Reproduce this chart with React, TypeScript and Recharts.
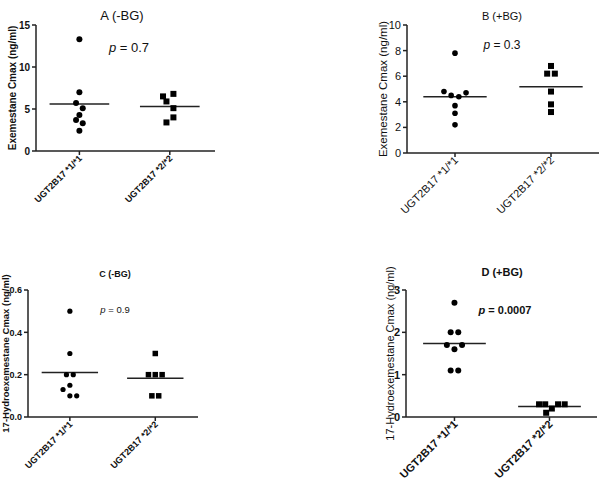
import React from "react";
import { ScatterChart, Scatter, XAxis, YAxis, ReferenceLine } from "recharts";

// genotype groups
const GROUPS = ["UGT2B17 *1/*1", "UGT2B17 *2/*2"];

// A: exemestane Cmax, no BG
const A_WT = [13.3, 7.0, 5.7, 5.1, 4.3, 3.7, 3.3, 2.4];
const A_WT_JIT = [0, 0, -0.037, 0.037, 0, -0.037, 0.037, 0];
const A_DEL = [6.5, 6.8, 5.9, 5.1, 4.0, 3.4];
const A_DEL_JIT = [-0.075, 0.04, -0.037, 0.04, 0.04, -0.037];
const A_TICKS = [0, 5, 10, 15];

// B: exemestane Cmax, +BG
const B_WT = [7.8, 4.8, 4.5, 4.4, 4.7, 3.7, 3.1, 2.2];
const B_WT_JIT = [0, -0.115, -0.04, 0.04, 0.115, 0, 0, 0];
const B_DEL = [6.8, 6.2, 6.2, 4.8, 3.8, 3.2];
const B_DEL_JIT = [0, -0.04, 0.04, 0, 0, 0];
const B_TICKS = [0, 2, 4, 6, 8, 10];

// C: 17-hydroexemestane Cmax, no BG
const C_WT = [0.5, 0.3, 0.2, 0.2, 0.15, 0.13, 0.1, 0.1];
const C_WT_JIT = [0, 0, -0.04, 0.04, 0, -0.08, 0, 0.08];
const C_DEL = [0.3, 0.2, 0.2, 0.2, 0.1, 0.1];
const C_DEL_JIT = [0, -0.08, 0, 0.08, -0.04, 0.04];
const C_TICKS = [0, 0.2, 0.4, 0.6];

// D: 17-hydroexemestane Cmax, +BG
const D_WT = [2.7, 2.0, 2.0, 1.7, 1.7, 1.6, 1.1, 1.1];
const D_WT_JIT = [0, -0.04, 0.04, -0.08, 0.08, 0, -0.04, 0.04];
const D_DEL = [0.3, 0.3, 0.3, 0.3, 0.1, 0.2];
const D_DEL_JIT = [-0.11, -0.045, 0.09, 0.16, -0.035, 0.025];
const D_TICKS = [0, 1, 2, 3];

const FONT = "'Liberation Sans', Arial, sans-serif";
const INK = "#222";
const HALF = 0.33;

const toPoints = (vals: number[], jit: number[], cat: number) =>
  vals.map((v, i) => ({ x: cat + jit[i], y: v }));
const mean = (vals: number[]) => vals.reduce((s, v) => s + v, 0) / vals.length;

const dot = (r: number) => (p: any) => <circle cx={p.cx} cy={p.cy} r={r} fill="#000" />;
const square = (s: number) => (p: any) => (
  <rect x={p.cx - s / 2} y={p.cy - s / 2} width={s} height={s} fill="#000" />
);

function CatTick({ x, y, payload, size, weight }: any) {
  const label = GROUPS[Math.round(payload.value) - 1];
  const tx = x + size * 0.35;
  const ty = y + 2;
  return (
    <text
      x={tx}
      y={ty}
      transform={`rotate(-45 ${tx} ${ty})`}
      textAnchor="end"
      fontSize={size}
      fontWeight={weight}
      fontFamily={FONT}
      fill="#111"
    >
      {label}
    </text>
  );
}

function YTitle({ viewBox, text, cx, size, weight }: any) {
  const cy = viewBox ? viewBox.y + viewBox.height / 2 : 100;
  return (
    <text
      x={cx}
      y={cy}
      transform={`rotate(-90 ${cx} ${cy})`}
      textAnchor="middle"
      dominantBaseline="central"
      fontSize={size}
      fontWeight={weight}
      fontFamily={FONT}
      fill="#111"
    >
      {text}
    </text>
  );
}

function Panel(props: any) {
  const {
    left, top, margin, yWidth, xHeight, xDomain, yTicks, yFmt,
    wt, wtJit, del, delJit, r, sq,
    yLabel, yLabelX, yLabelSize, yLabelWeight,
    tickSize, tickWeight, catSize, catWeight,
    title, titleX, titleY, titleSize, titleWeight,
    pValue, pX, pY, pSize, pWeight,
  } = props;
  const m1 = mean(wt);
  const m2 = mean(del);
  return (
    <div style={{ position: "absolute", left, top, width: 301, height: 241 }}>
      <ScatterChart width={301} height={241} margin={margin}>
        <XAxis
          type="number"
          dataKey="x"
          domain={xDomain}
          ticks={[1, 2]}
          allowDataOverflow
          height={xHeight}
          stroke={INK}
          strokeWidth={1.5}
          tickSize={4}
          tick={<CatTick size={catSize} weight={catWeight} />}
          interval={0}
        />
        <YAxis
          type="number"
          dataKey="y"
          domain={[yTicks[0], yTicks[yTicks.length - 1]]}
          ticks={yTicks}
          width={yWidth}
          stroke={INK}
          strokeWidth={1.5}
          tickSize={4}
          tickFormatter={yFmt}
          tick={{ fontSize: tickSize, fontWeight: tickWeight, fill: "#111", fontFamily: FONT }}
          interval={0}
          label={<YTitle text={yLabel} cx={yLabelX} size={yLabelSize} weight={yLabelWeight} />}
        />
        <Scatter data={toPoints(wt, wtJit, 1)} shape={dot(r)} isAnimationActive={false} />
        <Scatter data={toPoints(del, delJit, 2)} shape={square(sq)} isAnimationActive={false} />
        <ReferenceLine
          segment={[{ x: 1 - HALF, y: m1 }, { x: 1 + HALF, y: m1 }]}
          stroke={INK}
          strokeWidth={1.5}
        />
        <ReferenceLine
          segment={[{ x: 2 - HALF, y: m2 }, { x: 2 + HALF, y: m2 }]}
          stroke={INK}
          strokeWidth={1.5}
        />
      </ScatterChart>
      <div
        style={{
          position: "absolute", left: titleX, top: titleY, transform: "translate(-50%, -50%)",
          fontSize: titleSize, fontWeight: titleWeight, fontFamily: FONT, whiteSpace: "nowrap",
          lineHeight: 1, color: "#111",
        }}
      >
        {title}
      </div>
      <div
        style={{
          position: "absolute", left: pX, top: pY, transform: "translate(-50%, -50%)",
          fontSize: pSize, fontWeight: pWeight, fontFamily: FONT, whiteSpace: "nowrap",
          lineHeight: 1, color: "#111",
        }}
      >
        <i>p</i> = {pValue}
      </div>
    </div>
  );
}

export default function App() {
  return (
    <div style={{ position: "absolute", left: 0, top: 0, width: 601, height: 482, background: "#fff" }}>
      <Panel
        left={0} top={0}
        margin={{ top: 25, right: 86, bottom: 30, left: 0 }}
        yWidth={36} xHeight={60} xDomain={[0.52, 2.5]}
        yTicks={A_TICKS} yFmt={(v: number) => String(v)}
        wt={A_WT} wtJit={A_WT_JIT} del={A_DEL} delJit={A_DEL_JIT} r={3} sq={6}
        yLabel="Exemestane Cmax (ng/ml)" yLabelX={12} yLabelSize={10} yLabelWeight="bold"
        tickSize={10} tickWeight="bold" catSize={9} catWeight="bold"
        title="A (-BG)" titleX={122} titleY={15} titleSize={13} titleWeight="normal"
        pValue="0.7" pX={129} pY={47} pSize={13} pWeight="normal"
      />
      <Panel
        left={300} top={0}
        margin={{ top: 25, right: 2, bottom: 28, left: 77 }}
        yWidth={30} xHeight={60} xDomain={[0.5, 2.5]}
        yTicks={B_TICKS} yFmt={(v: number) => String(v)}
        wt={B_WT} wtJit={B_WT_JIT} del={B_DEL} delJit={B_DEL_JIT} r={2.8} sq={6}
        yLabel="Exemestane Cmax (ng/ml)" yLabelX={83} yLabelSize={11.5} yLabelWeight="normal"
        tickSize={11} tickWeight="normal" catSize={11} catWeight="normal"
        title="B (+BG)" titleX={202} titleY={16} titleSize={11} titleWeight="normal"
        pValue="0.3" pX={202} pY={45} pSize={12} pWeight="normal"
      />
      <Panel
        left={0} top={240}
        margin={{ top: 50, right: 103, bottom: 14, left: 0 }}
        yWidth={28} xHeight={50} xDomain={[0.51, 2.5]}
        yTicks={C_TICKS} yFmt={(v: number) => v.toFixed(1)}
        wt={C_WT} wtJit={C_WT_JIT} del={C_DEL} delJit={C_DEL_JIT} r={2.6} sq={5.5}
        yLabel="17-Hydroexemestane Cmax (ng/ml)" yLabelX={5} yLabelSize={9.5} yLabelWeight="bold"
        tickSize={9} tickWeight="bold" catSize={9} catWeight="bold"
        title="C (-BG)" titleX={115} titleY={34} titleSize={9} titleWeight="bold"
        pValue="0.9" pX={115} pY={70} pSize={9.5} pWeight="normal"
      />
      <Panel
        left={300} top={240}
        margin={{ top: 50, right: 4, bottom: 14, left: 76 }}
        yWidth={30} xHeight={50} xDomain={[0.49, 2.5]}
        yTicks={D_TICKS} yFmt={(v: number) => String(v)}
        wt={D_WT} wtJit={D_WT_JIT} del={D_DEL} delJit={D_DEL_JIT} r={3} sq={6}
        yLabel="17-Hydroexemestane Cmax (ng/ml)" yLabelX={90} yLabelSize={11} yLabelWeight="normal"
        tickSize={11} tickWeight="bold" catSize={11} catWeight="bold"
        title="D (+BG)" titleX={202} titleY={32} titleSize={11} titleWeight="bold"
        pValue="0.0007" pX={205} pY={70} pSize={11} pWeight="bold"
      />
    </div>
  );
}
